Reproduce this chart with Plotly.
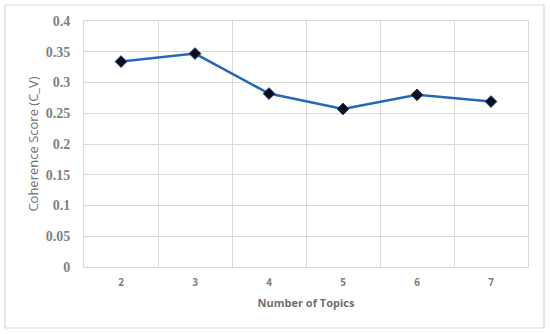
import plotly.graph_objects as go

topics = ["2", "3", "4", "5", "6", "7"]
coherence = [0.334, 0.347, 0.282, 0.257, 0.280, 0.269]
y_ticks = [0, 0.05, 0.1, 0.15, 0.2, 0.25, 0.3, 0.35, 0.4]
y_tick_labels = ["0", "0.05", "0.1", "0.15", "0.2", "0.25", "0.3", "0.35", "0.4"]

grid = "#d9d9d9"
fig = go.Figure()
fig.add_trace(go.Scatter(
    x=topics, y=coherence, mode="lines+markers",
    line=dict(color="#2468B8", width=2.5),
    marker=dict(symbol="diamond", size=9, color="#0a0f1e",
                line=dict(color="#1b3a66", width=1)),
    showlegend=False,
))
fig.update_layout(
    width=550, height=334,
    margin=dict(l=84, r=22, t=21, b=67),
    paper_bgcolor="white", plot_bgcolor="white",
    shapes=[dict(type="rect", xref="paper", yref="paper",
                 x0=-79 / 444, x1=(544 - 84) / 444,
                 y0=-(328 - 267) / 246, y1=(267 - 5) / 246,
                 line=dict(color="#d9d9d9", width=1.2), layer="below")],
)
fig.update_xaxes(
    type="category", range=[-0.5, 5.5], tickson="boundaries",
    showgrid=True, gridcolor=grid, gridwidth=1, automargin=False,
    showline=True, linecolor=grid, mirror=True, ticks="",
    tickfont=dict(family="Open Sans", size=10, color="#7f7f7f", weight="bold"),
    ticklabelstandoff=6,
    title=dict(text="Number of Topics", standoff=11,
               font=dict(family="Open Sans", size=11, color="#6f6f6f", weight="bold")),
)
fig.update_yaxes(
    range=[0, 0.4], tickvals=y_ticks, ticktext=y_tick_labels,
    showgrid=True, gridcolor=grid, gridwidth=1, zeroline=False, automargin=False,
    showline=True, linecolor=grid, mirror=True, ticks="",
    tickfont=dict(family="Liberation Serif", size=14, color="#7f7f7f", weight="bold"),
    ticklabelstandoff=10,
    title=dict(text="Coherence Score (C_V)", standoff=4,
               font=dict(family="Open Sans", size=13, color="#6f6f6f")),
)
fig.write_html("out.html", config={"displayModeBar": False},
               post_script="document.body.style.margin='0';")
